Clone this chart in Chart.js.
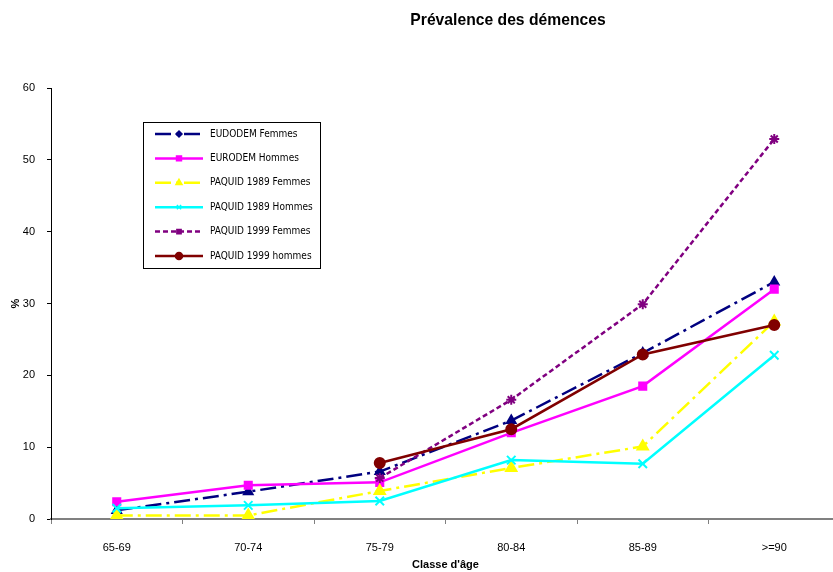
<!DOCTYPE html>
<html>
<head>
<meta charset="utf-8">
<script src="https://cdn.jsdelivr.net/npm/chart.js@4/dist/chart.umd.min.js"></script>
<style>
  html, body { margin: 0; padding: 0; background: #fff; overflow: hidden; }
  #wrap { width: 848px; height: 572px; }
</style>
</head>
<body>
<div id="wrap"><canvas id="c" width="848" height="572"></canvas></div>
<script>
// Age classes and prevalence (%) per study
const ageClasses = ['65-69', '70-74', '75-79', '80-84', '85-89', '>=90'];
const eurodemFemmes = [1.2, 3.8, 6.6, 13.7, 23.1, 33.0];
const eurodemHommes = [2.4, 4.7, 5.1, 12.0, 18.5, 32.0];
const paquid89Femmes = [0.5, 0.5, 3.9, 7.1, 10.1, 27.5];
const paquid89Hommes = [1.5, 1.9, 2.5, 8.2, 7.7, 22.8];
const paquid99Femmes = [null, null, 5.7, 16.6, 29.9, 52.9];
const paquid99Hommes = [null, null, 7.8, 12.5, 22.9, 27.0];
const seriesNames = ['EUDODEM Femmes', 'EURODEM Hommes', 'PAQUID 1989 Femmes',
                     'PAQUID 1989 Hommes', 'PAQUID 1999 Femmes', 'PAQUID 1999 hommes'];
const yTicks = [0, 10, 20, 30, 40, 50, 60];

const styles = [
  { color: '#000080', dash: [16, 5, 3, 5], point: 'triangle', r: 5, legendPoint: 'rectRot', lr: 3 },
  { color: '#FF00FF', dash: [], point: 'rect', r: 5, legendPoint: 'rect', lr: 3.5 },
  { color: '#FFFF00', dash: [16, 5, 3, 5], point: 'triangle', r: 6, legendPoint: 'triangle', lr: 3.5 },
  { color: '#00FFFF', dash: [], point: 'crossRot', r: 6, legendPoint: 'crossRot', lr: 3 },
  { color: '#800080', dash: [5, 3], point: 'star', r: 5, legendPoint: 'rect', lr: 3 },
  { color: '#800000', dash: [], point: 'circle', r: 5, legendPoint: 'circle', lr: 3.5 }
];
const values = [eurodemFemmes, eurodemHommes, paquid89Femmes, paquid89Hommes, paquid99Femmes, paquid99Hommes];

const datasets = values.map((v, i) => ({
  label: seriesNames[i],
  data: v,
  borderColor: styles[i].color,
  backgroundColor: styles[i].color,
  borderWidth: 2.5,
  borderDash: styles[i].dash,
  pointStyle: styles[i].point,
  pointRadius: styles[i].r,
  pointBorderWidth: 2,
  pointBorderColor: styles[i].color,
  pointBackgroundColor: styles[i].color,
  tension: 0,
  spanGaps: false,
  order: 10 - i
}));

// Title and boxed legend drawn on top of the chart
const overlay = {
  id: 'overlay',
  afterDraw(chart) {
    const ctx = chart.ctx;
    ctx.save();
    ctx.fillStyle = '#000';
    ctx.font = 'bold 15.7px "Liberation Sans", Arial, sans-serif';
    ctx.textAlign = 'center';
    ctx.textBaseline = 'middle';
    ctx.fillText('Prévalence des démences', 508, 21);

    // legend box
    const bx = 143.5, by = 122.5, bw = 177, bh = 146;
    ctx.fillStyle = '#fff';
    ctx.fillRect(bx, by, bw, bh);
    ctx.strokeStyle = '#000';
    ctx.lineWidth = 1;
    ctx.strokeRect(bx, by, bw, bh);

    ctx.font = '10px "Liberation Sans Narrow", "DejaVu Sans Condensed", sans-serif';
    ctx.textAlign = 'left';
    chart.data.datasets.forEach((ds, i) => {
      const y = 134 + i * 24.4;
      ctx.strokeStyle = ds.borderColor;
      ctx.lineWidth = 2.5;
      ctx.setLineDash(ds.borderDash);
      ctx.beginPath();
      ctx.moveTo(155, y);
      ctx.lineTo(203, y);
      ctx.stroke();
      ctx.setLineDash([]);
      ctx.fillStyle = ds.borderColor;
      ctx.lineWidth = 1.5;
      Chart.helpers.drawPoint(ctx, { pointStyle: styles[i].legendPoint, radius: styles[i].lr, rotation: 0, borderWidth: 1.5 }, 179, y);
      ctx.fillStyle = '#000';
      ctx.fillText(ds.label, 210, y);
    });
    ctx.restore();
  }
};

new Chart(document.getElementById('c'), {
  type: 'line',
  data: { labels: ageClasses, datasets },
  plugins: [overlay],
  options: {
    responsive: false,
    animation: false,
    layout: { padding: { top: 88, right: 1, left: 0, bottom: 0 } },
    plugins: { legend: { display: false }, tooltip: { enabled: false }, title: { display: false } },
    scales: {
      x: {
        offset: true,
        grid: { offset: true, drawOnChartArea: false, drawTicks: true, tickLength: 5, color: '#808080' },
        border: { display: true, color: '#808080', width: 2 },
        ticks: { color: '#000', padding: 17, font: { family: '"Liberation Sans", Arial, sans-serif', size: 11 } },
        title: { display: true, text: "Classe d'âge", color: '#000', padding: { top: 4, bottom: 0 },
                 font: { family: '"Liberation Sans", Arial, sans-serif', size: 11, weight: 'bold' } },
        afterFit(scale) { scale.height = 53; }
      },
      y: {
        min: 0, max: 60,
        afterBuildTicks(scale) { scale.ticks = yTicks.map(v => ({ value: v })); },
        grid: { drawOnChartArea: false, drawTicks: true, tickLength: 4, color: '#000' },
        border: { display: true, color: '#000', width: 1 },
        ticks: { color: '#000', padding: 12, font: { family: '"Liberation Sans", Arial, sans-serif', size: 11 } },
        title: { display: true, text: '%', color: '#000', padding: { top: 9, bottom: 0 },
                 font: { family: '"Liberation Sans", Arial, sans-serif', size: 11, weight: 'bold' } },
        afterFit(scale) { scale.width = 51; }
      }
    }
  }
});
</script>
</body>
</html>
